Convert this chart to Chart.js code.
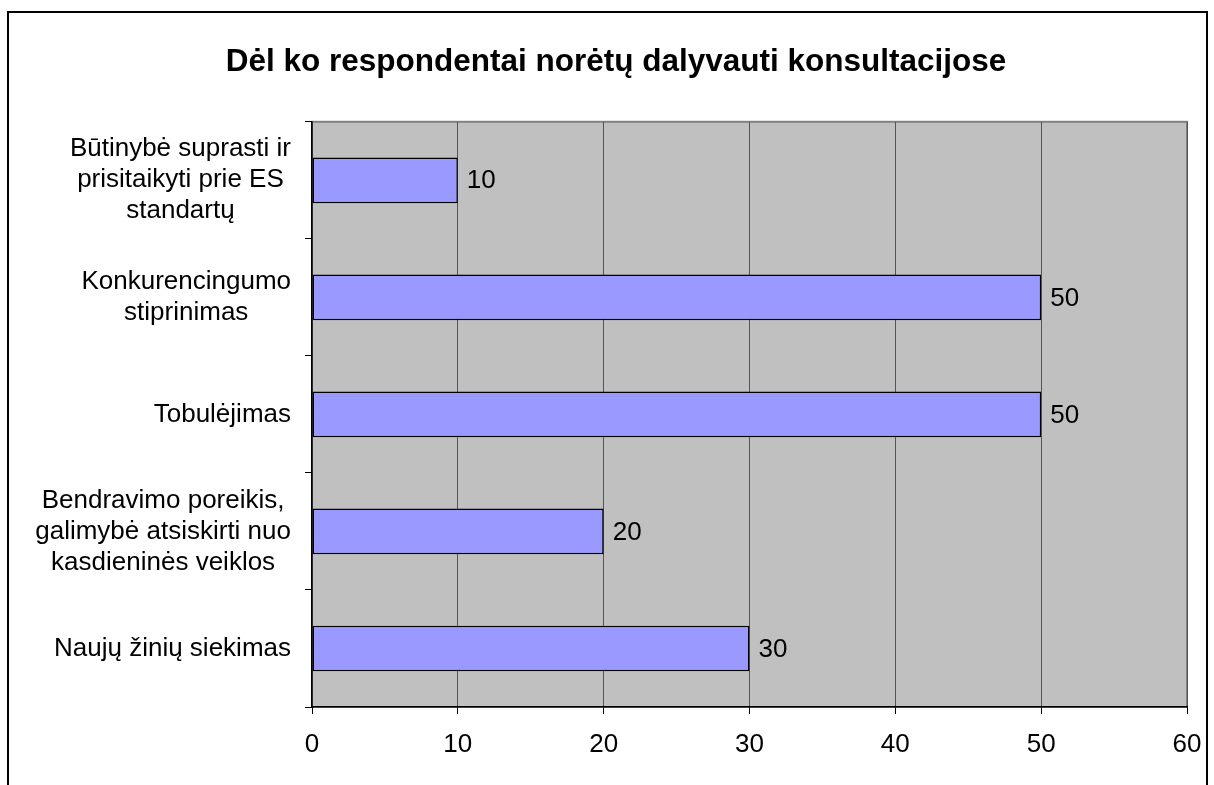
<!DOCTYPE html>
<html>
<head>
<meta charset="utf-8">
<script src="https://cdn.jsdelivr.net/npm/chart.js@4"></script>
<style>
  html, body { margin: 0; padding: 0; background: #fff; overflow: hidden; }
  #wrap { position: relative; width: 1214px; height: 785px; }
  #frame { position: absolute; left: 7px; top: 11px; width: 1197px; height: 800px;
           border: 2px solid #000; border-bottom: none; pointer-events: none; }
</style>
</head>
<body>
<div id="wrap">
  <canvas id="chart" width="1214" height="785"></canvas>
  <div id="frame"></div>
</div>
<script>
// chart data
const title = 'Dėl ko respondentai norėtų dalyvauti konsultacijose';
const categories = [
  ['Būtinybė suprasti ir', 'prisitaikyti prie ES', 'standartų'],
  ['Konkurencingumo', 'stiprinimas'],
  ['Tobulėjimas'],
  ['Bendravimo poreikis,', 'galimybė atsiskirti nuo', 'kasdieninės veiklos'],
  ['Naujų žinių siekimas']
];
const values = [10, 50, 50, 20, 30];
const xTicks = [0, 10, 20, 30, 40, 50, 60];

const FONT = 'Liberation Sans, Arial, sans-serif';

// gray plot background with thin gray frame
const plotBg = {
  id: 'plotBg',
  beforeDraw(chart) {
    const { ctx, chartArea: a } = chart;
    ctx.save();
    ctx.fillStyle = '#C0C0C0';
    ctx.fillRect(a.left, a.top, a.right - a.left, a.bottom - a.top);
    ctx.strokeStyle = '#808080';
    ctx.lineWidth = 2;
    ctx.strokeRect(a.left, a.top, a.right - a.left, a.bottom - a.top);
    ctx.restore();
  }
};

// category labels: block right aligned, lines centred inside the block
const catLabels = {
  id: 'catLabels',
  afterDraw(chart) {
    const { ctx } = chart;
    const y = chart.scales.y;
    const right = y.right - 21;
    const lh = 31;
    ctx.save();
    ctx.font = '26px ' + FONT;
    ctx.fillStyle = '#000';
    ctx.textAlign = 'center';
    ctx.textBaseline = 'middle';
    categories.forEach((lines, i) => {
      const w = Math.max(...lines.map(l => ctx.measureText(l).width));
      const cx = right - w / 2;
      const cy = y.getPixelForTick(i);
      const y0 = cy - (lines.length - 1) * lh / 2;
      lines.forEach((l, k) => ctx.fillText(l, cx, y0 + k * lh));
    });
    ctx.restore();
  }
};

// value labels at bar ends
const valueLabels = {
  id: 'valueLabels',
  afterDatasetsDraw(chart) {
    const { ctx } = chart;
    const meta = chart.getDatasetMeta(0);
    ctx.save();
    ctx.font = '26px ' + FONT;
    ctx.fillStyle = '#000';
    ctx.textAlign = 'left';
    ctx.textBaseline = 'middle';
    meta.data.forEach((bar, i) => {
      ctx.fillText(String(values[i]), bar.x + 9, bar.y + 1);
    });
    ctx.restore();
  }
};

new Chart(document.getElementById('chart'), {
  type: 'bar',
  data: {
    labels: categories.map(c => c.join(' ')),
    datasets: [{
      data: values,
      backgroundColor: '#9999FF',
      borderColor: '#000',
      borderWidth: 1.5,
      borderSkipped: false,
      barPercentage: 0.39,
      categoryPercentage: 1
    }]
  },
  options: {
    indexAxis: 'y',
    responsive: false,
    animation: false,
    layout: { padding: { left: 45, right: 27, top: 0, bottom: 0 } },
    scales: {
      x: {
        min: xTicks[0],
        max: xTicks[xTicks.length - 1],
        afterBuildTicks(scale) {
          scale.ticks = xTicks.map(v => ({ value: v }));
        },
        afterFit(scale) {
          scale.height = 78;
          scale.paddingLeft = 0;
          scale.paddingRight = 0;
        },
        grid: { color: '#555', lineWidth: 1, tickLength: 7, drawTicks: true, tickColor: '#000' },
        border: { color: '#000', width: 1.5 },
        ticks: { color: '#000', font: { family: FONT, size: 26 }, padding: 15, maxRotation: 0 }
      },
      y: {
        afterFit(scale) { scale.width = 267; },
        grid: { drawOnChartArea: false, offset: true, tickLength: 7, color: '#000' },
        border: { color: '#000', width: 1.5 },
        ticks: { color: 'rgba(0,0,0,0)', font: { family: FONT, size: 24 } }
      }
    },
    plugins: {
      legend: { display: false },
      tooltip: { enabled: false },
      title: {
        display: true,
        text: title,
        color: '#000',
        font: { family: FONT, size: 31.5, weight: 'bold' },
        padding: { top: 43, bottom: 41 }
      }
    }
  },
  plugins: [plotBg, catLabels, valueLabels]
});
</script>
</body>
</html>
